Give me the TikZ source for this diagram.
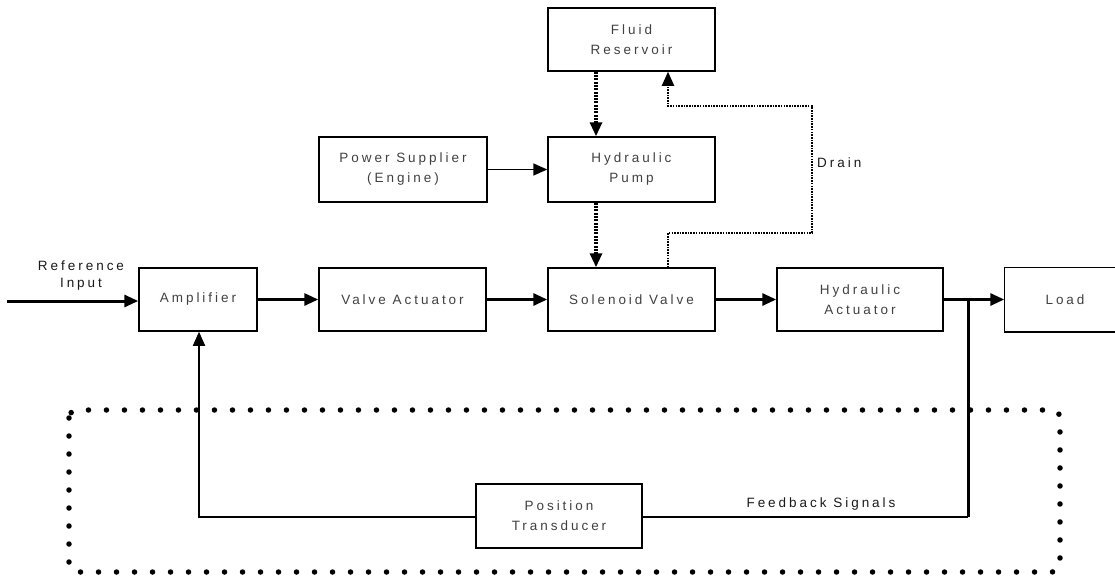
\documentclass[tikz,border=0pt]{standalone}
\usepackage{fontspec}
\setmainfont{Liberation Sans}[LetterSpace=22]
\usetikzlibrary{arrows.meta}
\begin{document}
\begin{tikzpicture}[x=1pt,y=-1pt,
  blk/.style={draw=black, line width=1.5pt, inner sep=0pt, align=center,
    minimum height=63pt, text=black!75,
    font=\fontsize{13.5}{20}\selectfont},
  lbl/.style={inner sep=0pt, align=center, text=black!90,
    font=\fontsize{13.5}{17}\selectfont},
  tip/.style={-{Triangle[length=14pt,width=12pt]}},
  flow/.style={line width=3pt, tip},
  thinflow/.style={line width=1.7pt, tip},
  fluid/.style={line width=3.2pt, dash pattern=on 2pt off 1.3pt, tip},
  drainline/.style={line width=2pt, dash pattern=on 1.6pt off 1.1pt, tip},
  fb/.style={line width=1.7pt},
  fbthick/.style={line width=3pt},
  group/.style={line width=5.5pt, line cap=round, dash pattern=on 0pt off 18pt, rounded corners=8pt}
]
\useasboundingbox (0,0) rectangle (1115,578);

% blocks
\node[blk, minimum width=118pt] (amp)  at (198,299.5)   {Amplifier};
\node[blk, minimum width=167pt] (va)   at (402.5,299.5) {Valve Actuator};
\node[blk, minimum width=167pt] (sv)   at (631.5,299.5) {Solenoid Valve};
\node[blk, minimum width=166pt] (ha)   at (860,299.5)   {Hydraulic\\Actuator};
\node[blk, draw=none, minimum width=120pt] (load) at (1065,299.5)  {Load};
\draw[line width=1.5pt] ([xshift=20pt]load.north east) -- (load.north west) -- (load.south west) -- ([xshift=20pt]load.south east);
\node[blk, minimum width=168pt, minimum height=65pt] (ps)   at (403,169.5)   {Power Supplier\\(Engine)};
\node[blk, minimum width=167pt, minimum height=65pt] (pump) at (631.5,169.5) {Hydraulic\\Pump};
\node[blk, minimum width=167pt] (fr)   at (631.5,39.5)  {Fluid\\Reservoir};
\node[blk, minimum width=166pt, minimum height=64pt] (pt) at (559,516) {Position\\Transducer};

% dotted group boundary
\draw[group] (69,410) rectangle (1060,572);

% reference input
\coordinate (in) at (7,301);
\node[lbl] (refl) at (81,276) {Reference\\Input};
\draw[flow] (in) -- (in -| amp.west);

% forward path
\draw[flow] (amp.east) -- (va.west);
\draw[flow] (va.east) -- (sv.west);
\draw[flow] (sv.east) -- (ha.west);
\coordinate (j) at (968,299.5);
\draw[flow] (ha.east) -- (load.west);

% power to pump
\draw[thinflow] (ps.east) -- (pump.west);

% fluid path
\draw[fluid] (fr.south -| 596,0) -- (pump.north -| 596,0);
\draw[fluid] (pump.south -| 596,0) -- (sv.north -| 596,0);

% drain
\coordinate (d1) at (668,233);
\coordinate (d2) at (812,233);
\coordinate (d3) at (812,106);
\coordinate (d4) at (668,106);
\draw[drainline] (sv.north -| d1) -- (d1) -- (d2) -- (d3) -- (d4) -- (fr.south -| d4);
\node[lbl, anchor=west] (drainl) at (817,163) {Drain};

% feedback
\coordinate (f1) at (968,517);
\coordinate (f2) at (199,517);
\draw[fbthick] (j) -- (f1);
\draw[fb] (f1) -- (pt.east |- f1);
\draw[fb, tip] (pt.west |- f2) -- (f2) -- (amp.south -| f2);
\node[lbl] (fbl) at (821,504) {Feedback Signals};
\end{tikzpicture}
\end{document}
